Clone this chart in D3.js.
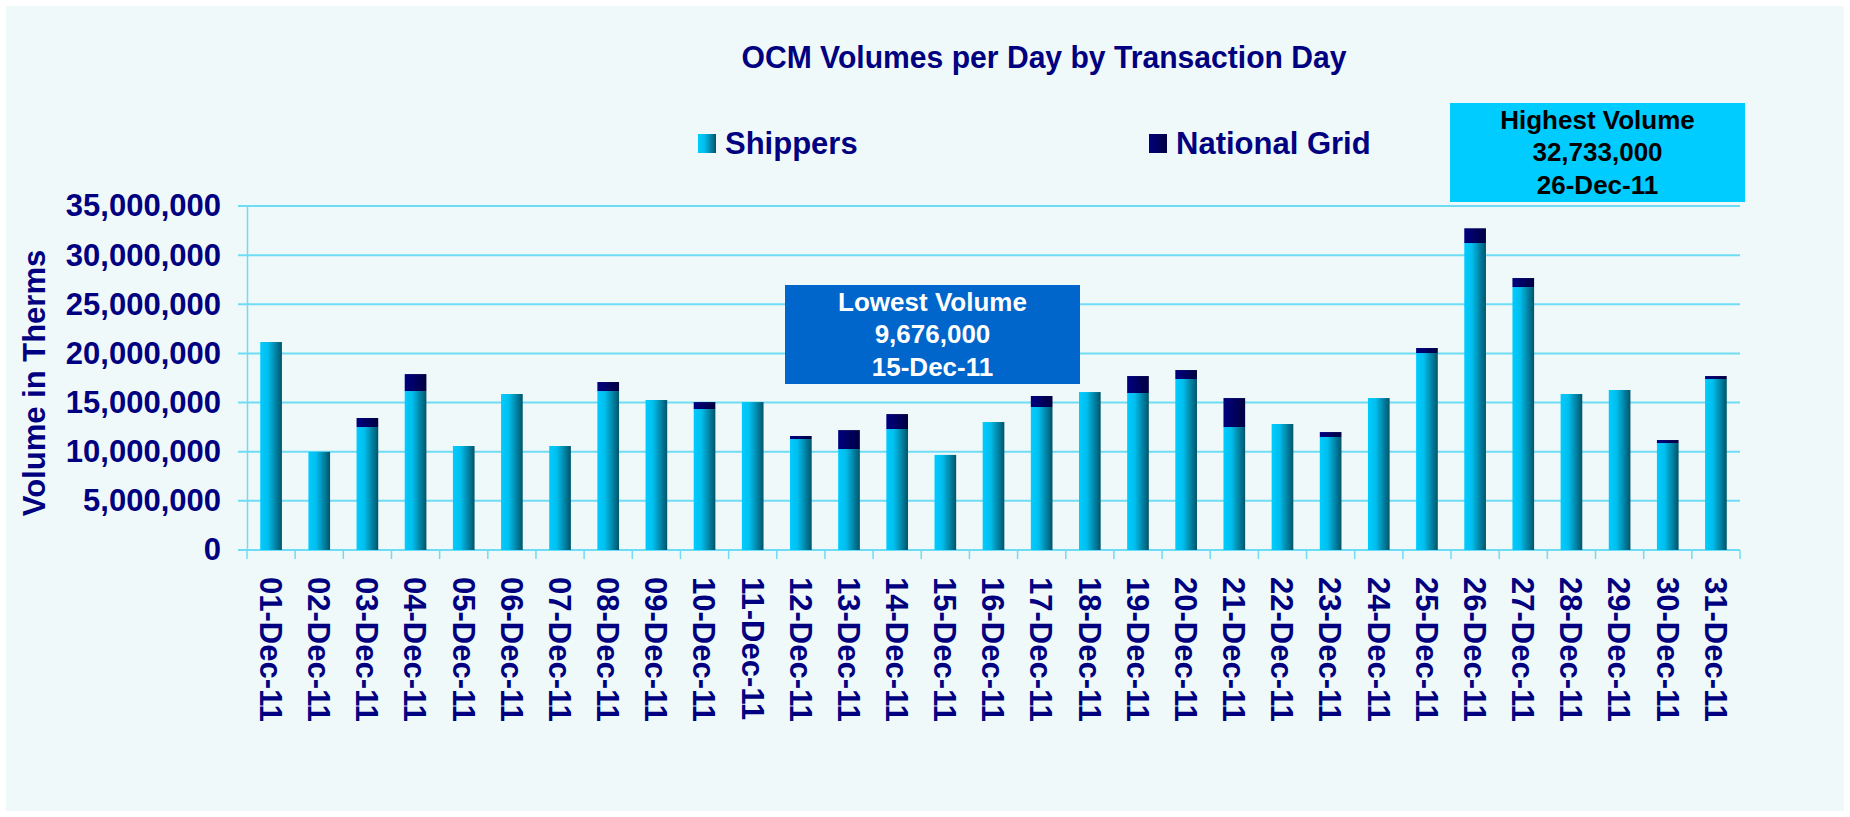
<!DOCTYPE html>
<html>
<head>
<meta charset="utf-8">
<script src="https://cdn.jsdelivr.net/npm/d3@7"></script>
<style>
  body { margin: 0; background: #ffffff; }
  text { font-family: "Liberation Sans", Arial, sans-serif; font-weight: bold; }
</style>
</head>
<body>
<div id="chart"></div>
<script>
// values (therms)
const days = d3.range(1, 32).map(d => String(d).padStart(2, "0") + "-Dec-11")
const shippers = [21160000, 9990000, 12510000, 16170000, 10580000, 15870000, 10580000, 16170000,
  15260000, 14340000, 15050000, 11290000, 10270000, 12310000, 9676000, 13020000,
  14550000, 16070000, 15970000, 17400000, 12510000, 12820000, 11500000, 15460000,
  20040000, 31230000, 26750000, 15870000, 16280000, 10880000, 17400000]
const nationalGrid = [0, 0, 920000, 1730000, 0, 0, 0, 920000,
  0, 710000, 0, 310000, 1930000, 1520000, 0, 0,
  1120000, 0, 1730000, 910000, 2950000, 0, 500000, 0,
  510000, 1503000, 920000, 0, 0, 310000, 300000]
const yTicks = [0, 5000000, 10000000, 15000000, 20000000, 25000000, 30000000, 35000000]
const seriesNames = ["Shippers", "National Grid"]
const notes = [
  { lines: ["Lowest Volume", "9,676,000", "15-Dec-11"], fill: "#0066cc", color: "#ffffff", x: 785, y: 285 },
  { lines: ["Highest Volume", "32,733,000", "26-Dec-11"], fill: "#00ccff", color: "#000000", x: 1450, y: 103 }
]

const W = 1850, H = 817
const navy = "#000080"
const gridColor = "#6fdcf6"
const plot = { left: 247, right: 1740, top: 206, bottom: 550 }

const svg = d3.select("#chart").append("svg").attr("width", W).attr("height", H)

// gradients for the bars
const defs = svg.append("defs")
const gShip = defs.append("linearGradient").attr("id", "gShip")
gShip.append("stop").attr("offset", "0%").attr("stop-color", "#00ccff")
gShip.append("stop").attr("offset", "35%").attr("stop-color", "#00bfee")
gShip.append("stop").attr("offset", "100%").attr("stop-color", "#00546a")
const gNat = defs.append("linearGradient").attr("id", "gNat")
gNat.append("stop").attr("offset", "0%").attr("stop-color", "#000080")
gNat.append("stop").attr("offset", "100%").attr("stop-color", "#000040")

svg.append("rect").attr("x", 6).attr("y", 6).attr("width", W - 12).attr("height", H - 12)
  .attr("fill", "#f0f9f9")

const x = d3.scaleBand(days, [plot.left, plot.right]).paddingInner(0.55).paddingOuter(0.275)
const y = d3.scaleLinear([0, 35000000], [plot.bottom, plot.top])

// gridlines
svg.append("g").selectAll("line").data(yTicks).join("line")
  .attr("x1", plot.left - 9).attr("x2", plot.right)
  .attr("y1", d => y(d)).attr("y2", d => y(d))
  .attr("stroke", gridColor).attr("stroke-width", 2)

// y axis
const yAxis = svg.append("g").attr("transform", `translate(${plot.left},0)`)
  .call(d3.axisLeft(y).tickValues(yTicks).tickFormat(d3.format(",")).tickSize(0).tickPadding(26))
yAxis.select(".domain").attr("stroke", gridColor).attr("stroke-width", 1.5)
yAxis.selectAll("text").attr("fill", navy).attr("font-size", 31).attr("font-family", null)

// stacked bars
const table = days.map((d, i) => ({ day: d, Shippers: shippers[i], "National Grid": nationalGrid[i] }))
const stacked = d3.stack().keys(seriesNames)(table)
svg.append("g").selectAll("g").data(stacked).join("g")
  .attr("fill", (d, i) => i === 0 ? "url(#gShip)" : "url(#gNat)")
  .selectAll("rect").data(d => d.filter(p => p[1] > p[0])).join("rect")
  .attr("x", d => x(d.data.day))
  .attr("width", x.bandwidth())
  .attr("y", d => y(d[1]))
  .attr("height", d => y(d[0]) - y(d[1]))

// x axis: boundary ticks between categories
const step = x.step()
const x0 = plot.left
svg.append("g").selectAll("line").data(d3.range(days.length + 1)).join("line")
  .attr("x1", i => x0 + i * step).attr("x2", i => x0 + i * step)
  .attr("y1", plot.bottom).attr("y2", plot.bottom + 9)
  .attr("stroke", gridColor).attr("stroke-width", 1.5)

const xAxis = svg.append("g").attr("transform", `translate(0,${plot.bottom})`)
  .call(d3.axisBottom(x).tickSize(0).tickPadding(0))
xAxis.select(".domain").remove()
xAxis.selectAll("text")
  .attr("fill", navy).attr("font-size", 31).attr("font-family", null)
  .attr("text-anchor", "start")
  .attr("transform", "translate(0,27) rotate(90)")
  .attr("x", 0).attr("y", 0).attr("dy", "0.36em")

// y axis title
svg.append("text")
  .attr("transform", "translate(45,383) rotate(-90)")
  .attr("text-anchor", "middle").attr("fill", navy).attr("font-size", 31)
  .text("Volume in Therms")

// title
svg.append("text")
  .attr("x", 1044).attr("y", 68).attr("text-anchor", "middle")
  .attr("fill", navy).attr("font-size", 32)
  .attr("textLength", 605).attr("lengthAdjust", "spacingAndGlyphs")
  .text("OCM Volumes per Day by Transaction Day")

// legend
const legendX = [698, 1149]
const legend = svg.append("g").selectAll("g").data(seriesNames).join("g")
  .attr("transform", (d, i) => `translate(${legendX[i]},134)`)
legend.append("rect").attr("width", 18).attr("height", 19)
  .attr("fill", (d, i) => i === 0 ? "url(#gShip)" : "url(#gNat)")
legend.append("text").attr("x", 27).attr("y", 19.5)
  .attr("fill", navy).attr("font-size", 31).text(d => d)

// annotation boxes
const box = svg.append("g").selectAll("g").data(notes).join("g")
  .attr("transform", d => `translate(${d.x},${d.y})`)
box.append("rect").attr("width", 295).attr("height", 99).attr("fill", d => d.fill)
box.selectAll("text").data(d => d.lines.map(l => ({ l, color: d.color }))).join("text")
  .attr("x", 147.5).attr("y", (d, i) => 25.5 + i * 32.5)
  .attr("text-anchor", "middle").attr("fill", d => d.color).attr("font-size", 26)
  .text(d => d.l)
</script>
</body>
</html>
